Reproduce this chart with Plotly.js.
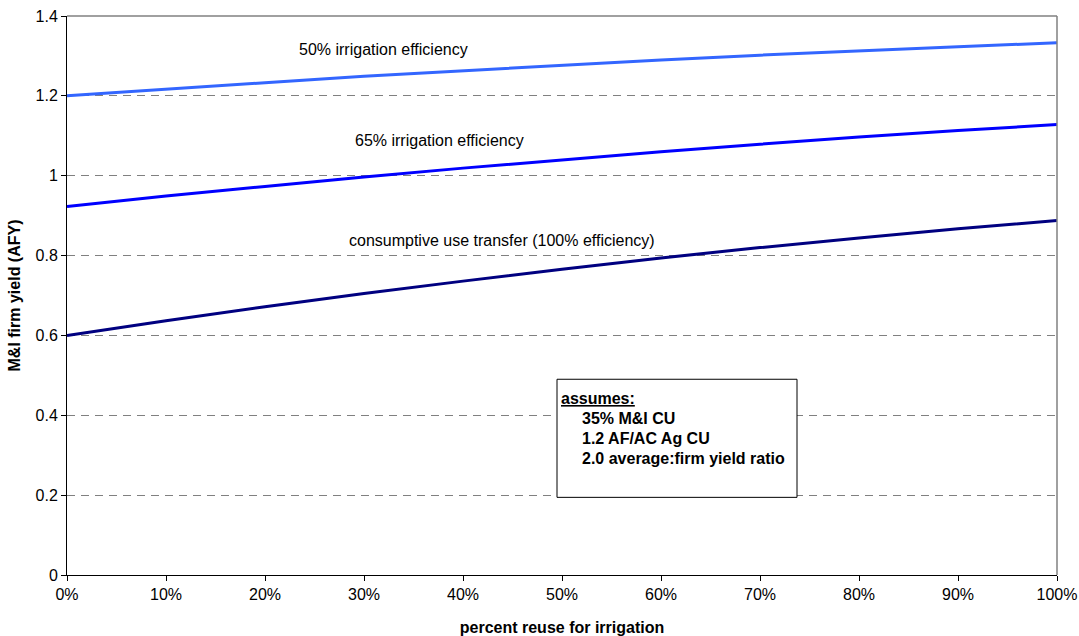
<!DOCTYPE html>
<html>
<head>
<meta charset="utf-8">
<script src="https://cdn.plot.ly/plotly-3.0.1.min.js"></script>
<style>html,body{margin:0;padding:0;background:#fff;}#chart{width:1079px;height:636px;}</style>
</head>
<body>
<div id="chart"></div>
<script>
// percent reuse for irrigation (fraction)
const reuse = [0, 0.1, 0.2, 0.3, 0.4, 0.5, 0.6, 0.7, 0.8, 0.9, 1.0];
// M&I firm yield (AFY)
const eff50 = [1.200, 1.217, 1.233, 1.249, 1.263, 1.277, 1.290, 1.302, 1.313, 1.323, 1.333];
const eff65 = [0.923, 0.949, 0.973, 0.997, 1.019, 1.040, 1.060, 1.079, 1.097, 1.113, 1.128];
const cuTransfer = [0.600, 0.637, 0.672, 0.705, 0.736, 0.766, 0.794, 0.820, 0.844, 0.867, 0.888];
const seriesNames = ["50% irrigation efficiency", "65% irrigation efficiency", "consumptive use transfer (100% efficiency)"];
const yTicks = [0, 0.2, 0.4, 0.6, 0.8, 1, 1.2, 1.4];
const yTickText = ["0", "0.2", "0.4", "0.6", "0.8", "1", "1.2", "1.4"];
const xTicks = [0, 0.1, 0.2, 0.3, 0.4, 0.5, 0.6, 0.7, 0.8, 0.9, 1.0];
const xTickText = ["0%", "10%", "20%", "30%", "40%", "50%", "60%", "70%", "80%", "90%", "100%"];
const assumptions = ["35% M&I CU", "1.2 AF/AC Ag CU", "2.0 average:firm yield ratio"];

const F = "Liberation Sans, Arial, sans-serif";
const FS = 16;

const traces = [
  {x: reuse, y: eff50, name: seriesNames[0], mode: "lines", line: {color: "#3366FF", width: 3}},
  {x: reuse, y: eff65, name: seriesNames[1], mode: "lines", line: {color: "#0000FF", width: 3}},
  {x: reuse, y: cuTransfer, name: seriesNames[2], mode: "lines", line: {color: "#000080", width: 3}}
];

function px(x) { return (x - 67) / 990; }
function py(y) { return (574.6 - y) / 558.6; }

const annotations = [
  {xref: "paper", yref: "paper", x: px(383), y: py(49), xanchor: "center", yanchor: "middle", text: seriesNames[0], showarrow: false, font: {family: F, size: FS, color: "#000"}},
  {xref: "paper", yref: "paper", x: px(439.5), y: py(140), xanchor: "center", yanchor: "middle", text: seriesNames[1], showarrow: false, font: {family: F, size: FS, color: "#000"}},
  {xref: "paper", yref: "paper", x: px(501.5), y: py(240), xanchor: "center", yanchor: "middle", text: seriesNames[2], showarrow: false, font: {family: F, size: FS, color: "#000"}},
  {xref: "paper", yref: "paper", x: px(559), y: py(398), xanchor: "left", yanchor: "middle", text: "<b><u>assumes:</u></b>", showarrow: false, font: {family: F, size: FS, color: "#000"}}
];
assumptions.forEach((t, i) => {
  annotations.push({xref: "paper", yref: "paper", x: px(580), y: py(418 + 20 * i), xanchor: "left", yanchor: "middle", text: "<b>" + t + "</b>", showarrow: false, font: {family: F, size: FS, color: "#000"}});
});

const layout = {
  width: 1079, height: 636,
  margin: {l: 67, r: 22, t: 16, b: 61, pad: 0},
  paper_bgcolor: "#fff", plot_bgcolor: "#fff",
  showlegend: false,
  font: {family: F, size: FS, color: "#000"},
  xaxis: {
    range: [0, 1], tickvals: xTicks, ticktext: xTickText,
    showgrid: false, zeroline: false, showline: true, linecolor: "#000", linewidth: 1,
    ticks: "outside", ticklen: 5, tickcolor: "#000",
    tickfont: {family: F, size: FS},
    title: {text: "<b>percent reuse for irrigation</b>", font: {family: F, size: FS}, standoff: 20}
  },
  yaxis: {
    range: [0, 1.4], tickvals: yTicks, ticktext: yTickText,
    showgrid: true, gridcolor: "#808080", griddash: "8px,6px", gridwidth: 1,
    zeroline: false, showline: true, linecolor: "#000", linewidth: 1,
    ticks: "outside", ticklen: 5, tickcolor: "#000",
    tickfont: {family: F, size: FS},
    title: {text: "<b>M&I firm yield (AFY)</b>", font: {family: F, size: FS}, standoff: 10}
  },
  shapes: [
    {type: "line", xref: "paper", yref: "paper", x0: 0, x1: 1, y0: 1, y1: 1, line: {color: "#808080", width: 1.5}},
    {type: "line", xref: "paper", yref: "paper", x0: 1, x1: 1, y0: 0, y1: 1, line: {color: "#808080", width: 1.5}},
    {type: "rect", xref: "paper", yref: "paper", x0: px(557), x1: px(797), y0: py(497), y1: py(379), line: {color: "#000", width: 1}, fillcolor: "#fff", layer: "above"}
  ],
  annotations: annotations
};

Plotly.newPlot("chart", traces, layout, {staticPlot: true});
</script>
</body>
</html>
